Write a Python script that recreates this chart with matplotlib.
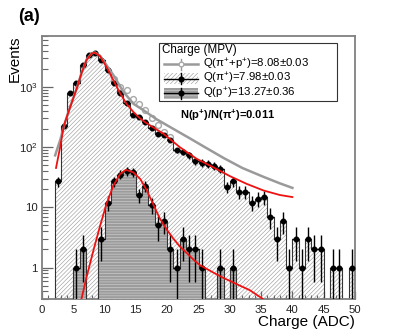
import numpy as np
import matplotlib
matplotlib.use("Agg")
import matplotlib.pyplot as plt
from matplotlib.patches import Rectangle
from matplotlib.lines import Line2D
from matplotlib.ticker import FixedLocator, MultipleLocator, NullFormatter

plt.rcParams["font.family"] = ["Liberation Sans", "DejaVu Sans"]
plt.rcParams["mathtext.fontset"] = "custom"
plt.rcParams["mathtext.rm"] = "Liberation Sans"
plt.rcParams["mathtext.it"] = "Liberation Sans:italic"
plt.rcParams["mathtext.bf"] = "Liberation Sans:bold"
plt.rcParams["hatch.linewidth"] = 0.45

# ---- data (1 ADC bins, 0..50) ----
bin_edges = np.arange(0, 51)
pi_counts = [
    0, 0, 27, 220, 790, 1170, 2300, 3450, 3600, 2800,
    1900, 1170, 780, 530, 337, 320, 260, 204, 168, 157,
    132, 88, 83, 73, 59, 55, 53, 49, 44, 22,
    27, 18, 18, 12, 14, 15, 7, 3, 6, 1,
    3, 1, 3, 2, 2, 0, 1, 1, 0, 1,
]
proton_counts = [
    0, 0, 0, 0, 0, 1, 2, 0, 0, 3,
    12, 27, 35, 40, 38, 16, 23, 11, 5, 6,
    2, 1, 3, 2, 2, 1, 0, 0, 1, 0,
    1, 0, 0, 0, 0, 0, 0, 0, 0, 0,
    0, 0, 0, 0, 0, 0, 0, 0, 0, 0,
]
# pi+ + p+ sample (open circles), only where visible above the pi+ points
combined_x = [11.5, 12.5, 13.5, 14.5, 15.5, 16.5, 17.5, 18.5, 19.5, 20.5]
combined_counts = [1350, 1000, 880, 640, 520, 410, 300, 230, 180, 147]

# fitted curves
fit_pi_x = [2.24, 2.9, 3.5, 4.5, 5.55, 6.3, 7.1, 7.94, 8.47, 9.27, 10.3, 11.4,
            12.5, 13.5, 14.6, 15.65, 16.7, 18.0, 19.4, 22.0, 24.7, 27.4, 30.0,
            32.7, 35.4, 38.0, 40.0]
fit_pi_y = [45, 100, 230, 460, 940, 1670, 2790, 3600, 3690, 3240, 2150, 1290,
            775, 525, 383, 300, 250, 205, 167, 100, 64, 46, 33,
            24.5, 19, 16, 14.8]
fit_all_x = [2.1, 2.9, 3.6, 4.5, 5.55, 6.3, 7.1, 7.94, 8.47, 9.27, 10.3, 11.4,
             13.0, 14.6, 16.2, 18.3, 21.0, 23.6, 26.0, 29.0, 32.0, 35.4, 38.0, 40.0]
fit_all_y = [73, 130, 240, 470, 950, 1680, 2800, 3620, 3720, 3300, 2300, 1570,
             830, 525, 410, 290, 200, 140, 100, 66, 45, 32, 25, 21]
fit_p_x = [6.3, 7.1, 8.2, 9.3, 10.3, 11.4, 12.5, 13.4, 14.6, 15.7, 16.7, 17.8,
           18.8, 19.9, 21.0, 22.0, 23.1, 24.2, 25.2, 26.3, 28.4, 30.6, 33.2, 35.3]
fit_p_y = [0.3, 0.68, 1.9, 5.0, 11.4, 23, 36, 42, 38, 29.5, 19.5, 11.0,
           6.6, 4.3, 3.0, 2.25, 1.75, 1.35, 1.1, 0.95, 0.72, 0.56, 0.42, 0.30]

legend_title = "Charge (MPV)"
legend_labels = [
    r"Q(π$^{+}$+p$^{+}$)=8.08$\pm$0.03",
    r"Q(π$^{+}$)=7.98$\pm$0.03",
    r"Q(p$^{+}$)=13.27$\pm$0.36",
]
ratio_text = r"N(p$^{\mathbf{+}}$)/N(π$^{\mathbf{+}}$)=0.011"

FLOOR = 1e-3
WIDTH, HEIGHT = 399, 335
centers = bin_edges[:-1] + 0.5
PI_HATCH = dict(facecolor="white", edgecolor="#a0a0a0", hatch="////////")
P_HATCH = dict(facecolor="#9c9c9c", edgecolor="#d0d0d0", hatch="------")


def fx(px):
    return px / WIDTH


def fy(py):
    return 1 - py / HEIGHT


def stair_values(counts):
    return np.array([c if c > 0 else FLOOR for c in counts], dtype=float)


def draw_points(axis, counts, color="black", zorder=5):
    counts = np.asarray(counts, dtype=float)
    mask = counts > 0
    y = counts[mask]
    err = np.sqrt(y)
    lower = np.minimum(err, y - FLOOR)
    axis.errorbar(
        centers[mask], y, yerr=[lower, err], xerr=0.5,
        fmt="o", ms=3.3, color=color, elinewidth=1.0, capsize=0,
        zorder=zorder,
    )


def legend_row(figure, row_y, label, line_color, marker_face, marker_edge,
               patch_style=None, line_width=1.0):
    if patch_style is not None:
        figure.add_artist(Rectangle(
            (fx(164), fy(row_y + 5.5)), fx(198) - fx(164), fy(row_y - 5.5) - fy(row_y + 5.5),
            transform=figure.transFigure, linewidth=0, zorder=11, **patch_style,
        ))
    figure.add_artist(Line2D([fx(164), fx(198)], [fy(row_y), fy(row_y)],
                             color=line_color, linewidth=line_width,
                             transform=figure.transFigure, zorder=12))
    figure.add_artist(Line2D([fx(181), fx(181)], [fy(row_y - 5.5), fy(row_y + 5.5)],
                             color=line_color, linewidth=1.0,
                             transform=figure.transFigure, zorder=12))
    figure.add_artist(Line2D([fx(181)], [fy(row_y)], marker="o", markersize=3.4,
                             mfc=marker_face, mec=marker_edge, linestyle="none",
                             transform=figure.transFigure, zorder=13))
    figure.text(fx(203), fy(row_y), label, ha="left", va="center",
                fontsize=8.2, zorder=13)


figure = plt.figure(figsize=(WIDTH / 100, HEIGHT / 100), dpi=100)
axis = figure.add_axes([fx(42), fy(299), fx(355) - fx(42), fy(36) - fy(299)])

# pi+ histogram: fine diagonal hatch
axis.stairs(stair_values(pi_counts), bin_edges, baseline=FLOOR, fill=True,
            linewidth=0, zorder=1, **PI_HATCH)
axis.stairs(stair_values(pi_counts), bin_edges, baseline=FLOOR,
            color="#333333", linewidth=0.8, zorder=2)

# p+ histogram: grey with light horizontal lines
axis.stairs(stair_values(proton_counts), bin_edges, baseline=FLOOR, fill=True,
            linewidth=0, zorder=3, **P_HATCH)
axis.stairs(stair_values(proton_counts), bin_edges, baseline=FLOOR,
            color="#333333", linewidth=0.8, zorder=3.5)

# open circles for the combined sample
axis.plot(combined_x, combined_counts, "o", ms=4.2, mfc="white", mec="#a8a8a8",
          mew=1.0, zorder=4)

draw_points(axis, pi_counts)
draw_points(axis, proton_counts)

axis.plot(fit_all_x, fit_all_y, color="#9a9a9a", linewidth=1.8, zorder=6)
axis.plot(fit_pi_x, fit_pi_y, color="#ee1111", linewidth=1.3, zorder=7)
axis.plot(fit_p_x, fit_p_y, color="#ee1111", linewidth=1.3, zorder=7)

axis.set_xlim(0, 50)
axis.set_yscale("log")
axis.set_ylim(0.3, 7000)

axis.xaxis.set_major_locator(MultipleLocator(5))
axis.xaxis.set_minor_locator(MultipleLocator(1))
axis.yaxis.set_major_locator(FixedLocator([1, 10, 100, 1000]))
axis.set_yticklabels(["1", "10", "$10^{2}$", "$10^{3}$"])
axis.yaxis.set_minor_locator(
    FixedLocator([m * 10.0 ** e for e in range(-1, 4) for m in range(2, 10)])
)
axis.yaxis.set_minor_formatter(NullFormatter())
axis.tick_params(axis="both", which="both", direction="in", colors="#666666",
                 labelcolor="#222222", labelsize=8.2)
axis.tick_params(axis="x", which="major", length=6, width=0.9, pad=4)
axis.tick_params(axis="x", which="minor", length=3, width=0.8)
axis.tick_params(axis="y", which="major", length=8, width=0.9, pad=3)
axis.tick_params(axis="y", which="minor", length=4, width=0.8)
for spine in axis.spines.values():
    spine.set_color("#808080")
    spine.set_linewidth(1.3)

# legend box drawn by hand to match the fixed ROOT layout
figure.add_artist(Rectangle(
    (fx(159), fy(101)), fx(337) - fx(159), fy(42.7) - fy(101),
    transform=figure.transFigure, facecolor="white", edgecolor="#333333",
    linewidth=0.8, zorder=10,
))
figure.text(fx(162), fy(50.5), legend_title, ha="left", va="center",
            fontsize=8.4, zorder=13)
legend_row(figure, 64, legend_labels[0], "#9a9a9a", "white", "#a8a8a8",
           line_width=1.8)
legend_row(figure, 78.5, legend_labels[1], "black", "black", "black",
           patch_style=PI_HATCH)
legend_row(figure, 93, legend_labels[2], "black", "black", "black",
           patch_style=P_HATCH)

figure.text(fx(180), fy(115), ratio_text, fontsize=8, fontweight="bold",
            ha="left", va="center", zorder=13)

figure.text(fx(15), fy(35), "Events", rotation=90, ha="center",
            va="top", fontsize=11)
figure.text(fx(355), fy(322), "Charge (ADC)", ha="right",
            va="center", fontsize=11)
figure.text(fx(29), fy(16.5), "(a)", ha="center", va="center",
            fontsize=13, fontweight="bold")

figure.savefig("out.png", dpi=100)
